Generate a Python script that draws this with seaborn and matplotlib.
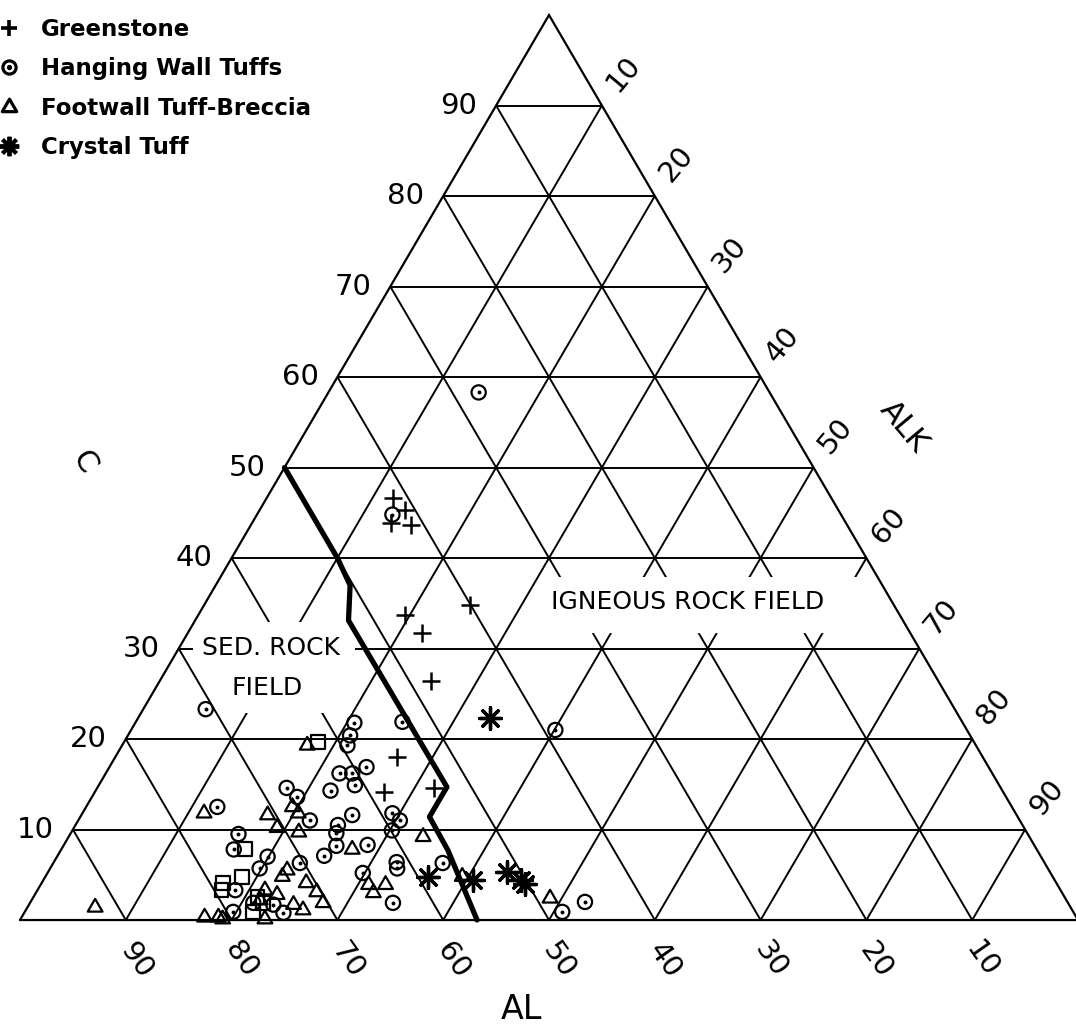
import matplotlib
matplotlib.use("Agg")
import matplotlib.pyplot as plt
import numpy as np
import seaborn as sns
from matplotlib.lines import Line2D
from matplotlib.legend_handler import HandlerTuple
from matplotlib.patches import Polygon
from matplotlib.path import Path

# Compositions in percent: C and ALK (AL = 100 - C - ALK)
greenstone_c = [46.6, 45.3, 43.9, 43.6, 33.7, 31.7, 34.8, 26.4, 18.0, 14.1, 14.6]
greenstone_alk = [12.0, 13.7, 13.1, 15.2, 19.5, 22.1, 25.1, 25.6, 26.6, 27.4, 31.8]

hanging_c = [58.3, 44.8, 23.3, 21.0, 21.9, 21.8, 20.4, 19.3, 16.9, 16.2, 16.2,
             14.9, 14.3, 11.6, 10.5, 9.6, 8.2, 7.1, 8.3, 5.2, 11.8, 11.0, 9.9,
             6.4, 5.7, 1.9, 6.3, 0.9, 2.0, 12.5, 9.5, 7.8, 14.6, 13.6, 11.0,
             6.3, 7.0, 5.7, 3.3, 0.9, 1.7, 0.8, 1.9]
hanging_alk = [14.2, 12.8, 5.9, 40.1, 25.2, 20.7, 21.0, 21.3, 24.3, 22.1, 23.3,
               24.2, 22.2, 25.6, 24.8, 25.1, 25.8, 25.2, 28.7, 29.8, 29.3, 30.4, 30.2,
               32.4, 32.8, 34.3, 36.8, 50.8, 52.4, 12.4, 15.9, 16.3, 17.9, 19.4, 21.9,
               23.3, 19.9, 19.8, 18.7, 19.7, 23.1, 24.5, 21.1]

footwall_c = [1.4, 11.8, 11.6, 10.2, 12.5, 11.8, 9.7, 7.8, 5.5, 4.8, 4.1, 3.1,
              1.9, 3.9, 3.0, 2.8, 1.7, 1.1, 0.1, 0.3, 0.3, 0.1, 3.3, 2.2, 19.3,
              9.2, 3.9, 4.8, 2.4]
footwall_alk = [6.4, 11.5, 17.6, 19.2, 19.5, 20.4, 21.5, 27.5, 22.5, 22.4, 25.0, 26.5,
                27.7, 31.0, 31.9, 22.9, 25.0, 26.2, 23.1, 17.3, 18.6, 19.1, 21.5, 21.6, 17.5,
                33.5, 32.6, 39.4, 48.9]

crystal_c = [22.3, 4.8, 4.4, 5.3, 4.4, 4.0]
crystal_alk = [33.3, 36.2, 40.6, 43.4, 45.2, 45.7]

square_c = [19.7, 7.8, 4.1, 4.8, 3.3, 2.5, 0.9, 1.9]
square_alk = [18.3, 17.4, 17.1, 18.6, 17.4, 21.2, 21.6, 22.0]

# Sedimentary / igneous field boundary
boundary_c = [50.0, 40.0, 37.0, 33.1, 14.7, 11.4, 7.7, 0.0]
boundary_alk = [0.0, 10.0, 12.7, 14.5, 33.0, 33.0, 36.6, 43.2]

ticks = [10, 20, 30, 40, 50, 60, 70, 80, 90]
legend_labels = ["Greenstone", "Hanging Wall Tuffs", "Footwall Tuff-Breccia", "Crystal Tuff"]


def tern_xy(c, alk):
    c = np.asarray(c, dtype=float)
    alk = np.asarray(alk, dtype=float)
    return alk + c / 2.0, c


sns.set_theme(style="white")
plt.rcParams["font.family"] = ["DejaVu Sans"]
plt.rcParams["text.color"] = "black"

fig = plt.figure(figsize=(10.76, 10.27), dpi=100)
ax = fig.add_axes([0, 0, 1, 1])
ax.set_xlim(-1.89, 99.81)
ax.set_ylim(-11.82, 101.66)
ax.set_axis_off()

# Triangular grid at 10 % steps
grid_kw = dict(color="black", lw=1.4, zorder=1, solid_capstyle="butt")
for k in ticks:
    for (c0, a0), (c1, a1) in [((k, 0), (k, 100 - k)),
                               ((0, k), (100 - k, k)),
                               ((100 - k, 0), (0, 100 - k))]:
        gx, gy = tern_xy([c0, c1], [a0, a1])
        ax.plot(gx, gy, **grid_kw)

# Blank areas behind the field names
for verts in [
    [(19.1, 22.9), (31.4, 22.9), (31.4, 32.9), (19.1, 32.9)],
    [(16.35, 29.3), (31.65, 29.3), (31.65, 30.7), (16.35, 30.7)],
    [(50.6, 31.7), (84.15, 31.7), (81.05, 37.9), (50.6, 37.9)],
]:
    ax.add_patch(Polygon(verts, closed=True, fc="white", ec="none", zorder=1.5))

# Outline
ox, oy = tern_xy([0, 0, 100, 0], [0, 100, 0, 0])
ax.plot(ox, oy, color="black", lw=1.6, zorder=2, solid_joinstyle="miter")

# Field boundary
bx, by = tern_xy(boundary_c, boundary_alk)
sns.lineplot(x=bx, y=by, sort=False, estimator=None, color="black", lw=3.8,
             ax=ax, zorder=3)

tri = Path([(-1, -0.577), (1, -0.577), (0, 1.155), (-1, -0.577)], closed=True)

gx, gy = tern_xy(greenstone_c, greenstone_alk)
sns.scatterplot(x=gx, y=gy, marker="+", s=170, color="black", linewidth=1.8,
                ax=ax, zorder=5, legend=False)

hx, hy = tern_xy(hanging_c, hanging_alk)
sns.scatterplot(x=hx, y=hy, marker="o", s=105, facecolor="none", edgecolor="black",
                linewidth=1.6, ax=ax, zorder=4, legend=False)
sns.scatterplot(x=hx, y=hy, marker="o", s=8, color="black", linewidth=0,
                ax=ax, zorder=4, legend=False)

fx, fy = tern_xy(footwall_c, footwall_alk)
sns.scatterplot(x=fx, y=fy, marker=tri, s=150, facecolor="none", edgecolor="black",
                linewidth=1.6, ax=ax, zorder=4, legend=False)

sx, sy = tern_xy(square_c, square_alk)
sns.scatterplot(x=sx, y=sy, marker="s", s=100, facecolor="none", edgecolor="black",
                linewidth=1.6, ax=ax, zorder=4, legend=False)

cx, cy = tern_xy(crystal_c, crystal_alk)
sns.scatterplot(x=cx, y=cy, marker=(8, 2, 0), s=240, color="black", linewidth=2.4,
                ax=ax, zorder=5, legend=False)

# Scale labels
num_kw = dict(fontsize=21, color="black", textcoords="offset pixels", zorder=6)
for k in ticks:
    lx, ly = tern_xy(k, 0)
    ax.annotate(str(k), (lx, ly), xytext=(-19, 0), ha="right", va="center", **num_kw)
    rx, ry = tern_xy(100 - k, k)
    ax.annotate(str(k), (rx, ry), xytext=(22, 32), ha="center", va="center",
                rotation=50, **num_kw)
    bx0, by0 = tern_xy(0, 100 - k)
    ax.annotate(str(k), (bx0, by0), xytext=(10, -40), ha="center", va="center",
                rotation=-55, **num_kw)

# Apex names
ax.text(6.05, 50.6, "C", fontsize=22, rotation=-60, ha="center", va="center")
ax.text(83.5, 54.5, "ALK", fontsize=22, rotation=-50, ha="center", va="center")
ax.text(47.35, -9.94, "AL", fontsize=24, ha="center", va="center")

# Field names
field_kw = dict(fontsize=18, ha="center", va="center", zorder=6)
ax.text(23.7, 30.06, "SED. ROCK", **field_kw)
ax.text(23.4, 25.6, "FIELD", **field_kw)
ax.text(63.1, 35.1, "IGNEOUS ROCK FIELD", **field_kw)

# Legend
handles = [
    Line2D([], [], ls="none", marker="+", ms=11, mew=2.6, color="black"),
    (Line2D([], [], ls="none", marker="o", ms=9.5, mfc="none", mec="black", mew=2.3),
     Line2D([], [], ls="none", marker="o", ms=2.8, color="black")),
    Line2D([], [], ls="none", marker=tri, ms=12, mfc="none", mec="black", mew=2.3),
    Line2D([], [], ls="none", marker=(8, 2, 0), ms=14, mew=2.8, color="black"),
]
fig.legend(handles, legend_labels, loc="upper left",
           bbox_to_anchor=(0.0, 1 - 18 / 1027), bbox_transform=fig.transFigure,
           frameon=False, borderpad=0, borderaxespad=0, handlelength=0.8,
           handletextpad=1.0, labelspacing=0.71, labelcolor="black",
           handler_map={tuple: HandlerTuple(ndivide=1, pad=0)},
           prop=dict(family="DejaVu Sans", weight="bold", size=16.5))

fig.savefig("out.png", dpi=100)
